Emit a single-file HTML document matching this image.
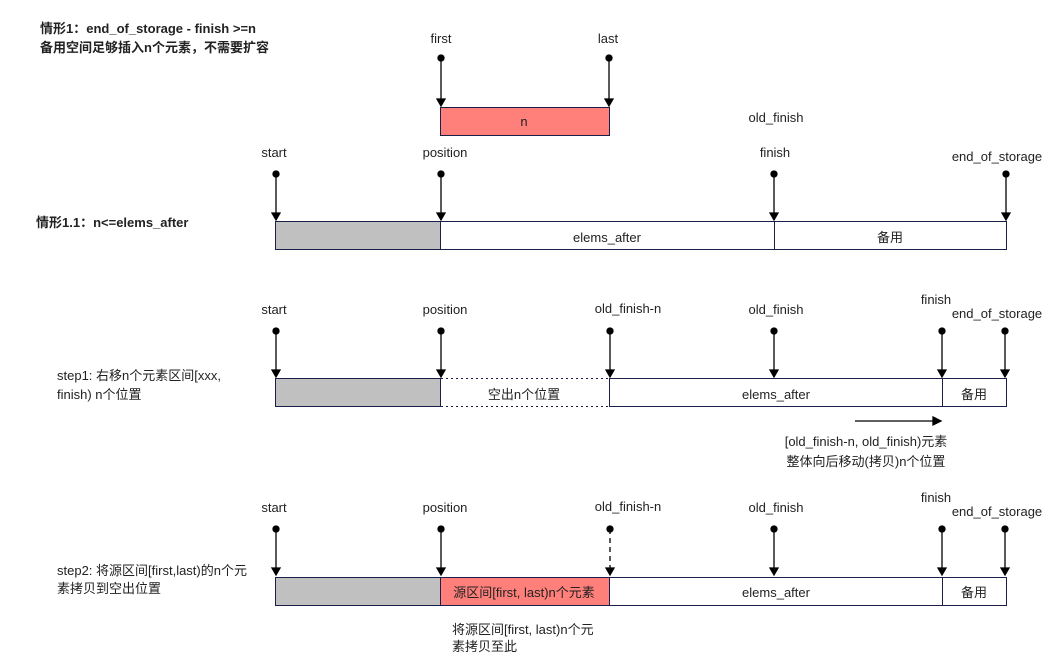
<!DOCTYPE html>
<html><head><meta charset="utf-8"><style>
html,body{margin:0;padding:0;background:#fff;}
svg{display:block;}
text{font-family:"Liberation Sans","Noto Sans CJK SC",sans-serif;font-size:13px;fill:#222;}
.b{font-weight:bold;}
</style></head><body>
<svg width="1053" height="661" viewBox="0 0 1053 661" xmlns="http://www.w3.org/2000/svg">
<defs>
<marker id="ah" markerWidth="8" markerHeight="8" refX="4" refY="7" orient="auto" markerUnits="userSpaceOnUse">
<path d="M0,0 L8,0 L4,7 z" fill="#000" transform="rotate(-90 4 4) rotate(90 4 4)"/>
</marker>
</defs>
<g id="t">
<text x="40" y="33" class="b">情形1：end_of_storage - finish &gt;=n</text>
<text x="40" y="52" class="b">备用空间足够插入n个元素，不需要扩容</text>
<text x="36" y="227" class="b">情形1.1：n&lt;=elems_after</text>
<text x="57" y="380">step1: 右移n个元素区间[xxx,</text>
<text x="57" y="399">finish) n个位置</text>
<text x="57" y="575">step2: 将源区间[first,last)的n个元</text>
<text x="57" y="593">素拷贝到空出位置</text>
</g>
<g stroke="#000" stroke-width="1.3" fill="#000">
<!-- pointers: line + dot + arrow -->
<!-- section top -->
<circle cx="441" cy="58" r="3"/><line x1="441" y1="58" x2="441" y2="100"/><path d="M437,99 L445,99 L441,106 z"/>
<circle cx="609" cy="58" r="3"/><line x1="609" y1="58" x2="609" y2="100"/><path d="M605,99 L613,99 L609,106 z"/>
<!-- row1 -->
<circle cx="276" cy="174" r="3"/><line x1="276" y1="174" x2="276" y2="214"/><path d="M272,213 L280,213 L276,220 z"/>
<circle cx="441" cy="174" r="3"/><line x1="441" y1="174" x2="441" y2="214"/><path d="M437,213 L445,213 L441,220 z"/>
<circle cx="774" cy="174" r="3"/><line x1="774" y1="174" x2="774" y2="214"/><path d="M770,213 L778,213 L774,220 z"/>
<circle cx="1006" cy="174" r="3"/><line x1="1006" y1="174" x2="1006" y2="214"/><path d="M1002,213 L1010,213 L1006,220 z"/>
<!-- row2 -->
<circle cx="276" cy="331" r="3"/><line x1="276" y1="331" x2="276" y2="371"/><path d="M272,370 L280,370 L276,377 z"/>
<circle cx="441" cy="331" r="3"/><line x1="441" y1="331" x2="441" y2="371"/><path d="M437,370 L445,370 L441,377 z"/>
<circle cx="610" cy="331" r="3"/><line x1="610" y1="331" x2="610" y2="371"/><path d="M606,370 L614,370 L610,377 z"/>
<circle cx="774" cy="331" r="3"/><line x1="774" y1="331" x2="774" y2="371"/><path d="M770,370 L778,370 L774,377 z"/>
<circle cx="942" cy="331" r="3"/><line x1="942" y1="331" x2="942" y2="371"/><path d="M938,370 L946,370 L942,377 z"/>
<circle cx="1005" cy="331" r="3"/><line x1="1005" y1="331" x2="1005" y2="371"/><path d="M1001,370 L1009,370 L1005,377 z"/>
<!-- row3 -->
<circle cx="276" cy="529" r="3"/><line x1="276" y1="529" x2="276" y2="569"/><path d="M272,568 L280,568 L276,575 z"/>
<circle cx="441" cy="529" r="3"/><line x1="441" y1="529" x2="441" y2="569"/><path d="M437,568 L445,568 L441,575 z"/>
<circle cx="610" cy="529" r="3"/><line x1="610" y1="529" x2="610" y2="569" stroke-dasharray="5,4"/><path d="M606,568 L614,568 L610,575 z"/>
<circle cx="774" cy="529" r="3"/><line x1="774" y1="529" x2="774" y2="569"/><path d="M770,568 L778,568 L774,575 z"/>
<circle cx="942" cy="529" r="3"/><line x1="942" y1="529" x2="942" y2="569"/><path d="M938,568 L946,568 L942,575 z"/>
<circle cx="1005" cy="529" r="3"/><line x1="1005" y1="529" x2="1005" y2="569"/><path d="M1001,568 L1009,568 L1005,575 z"/>
<!-- move arrow -->
<line x1="855" y1="421" x2="934" y2="421"/><path d="M933,417 L941,421 L933,425 z"/>
</g>
<g stroke="#1a1f4a" stroke-width="1">
<rect x="440.5" y="107.5" width="169" height="28" fill="#ff7f7b"/>
<!-- row1 -->
<rect x="275.5" y="221.5" width="731" height="28" fill="#fff"/>
<rect x="275.5" y="221.5" width="165" height="28" fill="#c0c0c0"/>
<line x1="774.5" y1="221.5" x2="774.5" y2="249.5"/>
<!-- row2 -->
<rect x="275.5" y="378.5" width="165" height="28" fill="#c0c0c0"/>
<rect x="609.5" y="378.5" width="397" height="28" fill="#fff"/>
<line x1="942.5" y1="378.5" x2="942.5" y2="406.5"/>
<g stroke-dasharray="2,3"><line x1="441" y1="378.5" x2="609" y2="378.5"/><line x1="441" y1="406.5" x2="609" y2="406.5"/></g>
<!-- row3 -->
<rect x="275.5" y="577.5" width="731" height="28" fill="#fff"/>
<rect x="275.5" y="577.5" width="165" height="28" fill="#c0c0c0"/>
<rect x="440.5" y="577.5" width="169" height="28" fill="#ff7f7b"/>
<line x1="942.5" y1="577.5" x2="942.5" y2="605.5"/>
</g>
<g text-anchor="middle">
<text x="441" y="43">first</text><text x="608" y="43">last</text>
<text x="524" y="126">n</text>
<text x="776" y="122">old_finish</text>
<text x="274" y="157">start</text><text x="445" y="157">position</text><text x="775" y="157">finish</text><text x="997" y="161">end_of_storage</text>
<text x="607" y="242">elems_after</text><text x="890" y="242">备用</text>
<text x="274" y="314">start</text><text x="445" y="314">position</text><text x="628" y="313">old_finish-n</text><text x="776" y="314">old_finish</text><text x="936" y="304">finish</text><text x="997" y="318">end_of_storage</text>
<text x="524" y="399">空出n个位置</text><text x="776" y="399">elems_after</text><text x="974" y="399">备用</text>
<text x="866" y="446">[old_finish-n, old_finish)元素</text>
<text x="866" y="466">整体向后移动(拷贝)n个位置</text>
<text x="274" y="512">start</text><text x="445" y="512">position</text><text x="628" y="511">old_finish-n</text><text x="776" y="512">old_finish</text><text x="936" y="502">finish</text><text x="997" y="516">end_of_storage</text>
<text x="524" y="597">源区间[first, last)n个元素</text><text x="776" y="597">elems_after</text><text x="974" y="597">备用</text>
</g>
<text x="452" y="634">将源区间[first, last)n个元</text>
<text x="452" y="651">素拷贝至此</text>
</svg>
</body></html>
